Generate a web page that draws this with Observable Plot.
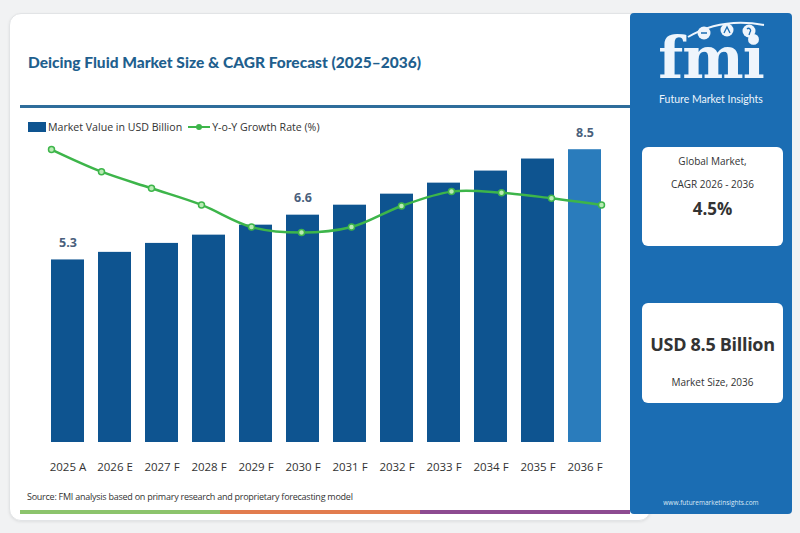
<!DOCTYPE html>
<html>
<head>
<meta charset="utf-8">
<script src="https://cdn.jsdelivr.net/npm/d3@7"></script>
<script src="https://cdn.jsdelivr.net/npm/@observablehq/plot@0.6"></script>
<style>
  html, body { margin: 0; padding: 0; }
  body { width: 800px; height: 533px; background: #f1f2f3; font-family: "Open Sans", sans-serif; overflow: hidden; }
  #page { position: relative; width: 800px; height: 533px; }
  .card { position: absolute; left: 9px; top: 13px; width: 640px; height: 506px; background: #fff;
          border: 1px solid #e2e4e6; border-radius: 12px; box-shadow: 0 1px 3px rgba(0,0,0,0.08); }
  .title { position: absolute; left: 28px; top: 53px; font-family: Lato, sans-serif; font-weight: 900;
           font-size: 15.5px; color: #1f5f8e; white-space: nowrap; }
  .rule { position: absolute; left: 20px; top: 105px; width: 612px; height: 3px; background: #2f6d9b; }
  .legend { position: absolute; left: 28px; top: 120px; font-size: 10.6px; color: #333; white-space: nowrap;
            display: flex; align-items: center; }
  .sw-bar { display: inline-block; width: 18px; height: 10px; background: #0e5490; margin-right: 2px; }
  .sw-line { display: inline-block; position: relative; width: 22px; height: 10px; margin: 0 2px 0 6px; }
  .sw-line::before { content: ""; position: absolute; left: 0; right: 0; top: 4px; height: 2px; background: #3db54a; }
  .sw-line::after { content: ""; position: absolute; left: 8px; top: 2px; width: 6px; height: 6px; border-radius: 50%; background: #3db54a; }
  .plot { position: absolute; left: 0; top: 0; }
  .source { position: absolute; left: 27px; top: 490px; font-size: 9px; color: #333; white-space: nowrap; letter-spacing: -0.25px; }
  .stripe { position: absolute; top: 510px; height: 4px; }
  .panel { position: absolute; left: 630px; top: 13px; width: 162px; height: 501px; background: #1b6db3; border-radius: 4px; }
  .logo { position: absolute; left: 0; width: 162px; text-align: center; color: #eef5fc; }
  .box { position: absolute; left: 12px; width: 141px; background: #fff; border-radius: 6px; text-align: center; color: #333; }
</style>
</head>
<body>
<div id="page">
  <div class="card"></div>
  <div class="title">Deicing Fluid Market Size &amp; CAGR Forecast (2025–2036)</div>
  <div class="rule"></div>
  <div class="legend">
    <span class="sw-bar"></span><span>Market Value in USD Billion</span>
    <span class="sw-line"></span><span>Y-o-Y Growth Rate (%)</span>
  </div>
  <div id="bars" class="plot"></div>
  <div id="line" class="plot"></div>
  <div class="source">Source: FMI analysis based on primary research and proprietary forecasting model</div>
  <div class="stripe" style="left:20px;width:200px;background:#8cc46c"></div>
  <div class="stripe" style="left:220px;width:200px;background:#e27c4e"></div>
  <div class="stripe" style="left:420px;width:210px;background:#8d4b91"></div>

  <div class="panel">
    <svg style="position:absolute;left:0;top:0" width="162" height="120">
      <path d="M58,24 Q92,4 134,12" fill="none" stroke="#eef5fc" stroke-width="2"/>
      <circle cx="74" cy="20" r="6.5" fill="#eef5fc"/>
      <circle cx="97" cy="17" r="6.5" fill="#eef5fc"/>
      <circle cx="119" cy="18" r="6.5" fill="#eef5fc"/>
      <path d="M71,20 h6 M94,20 l3,-6 l3,6 M117,16 a2,2 0 1,1 3,3 l-1,3" fill="none" stroke="#1b6db3" stroke-width="1.3"/>
      <text x="81" y="65" text-anchor="middle" fill="#eef5fc" font-family="'DejaVu Serif', serif"
            font-weight="bold" font-size="58" letter-spacing="-1">fmi</text>
      <text x="81" y="90" text-anchor="middle" fill="#eef5fc" font-family="Lato, sans-serif" font-size="10.5">Future Market Insights</text>
    </svg>
    <div class="box" style="top:134px;height:99px;">
      <div style="margin-top:7px;font-size:10px;line-height:14px;">Global Market,</div>
      <div style="margin-top:9px;font-size:10px;line-height:14px;">CAGR 2026 - 2036</div>
      <div style="margin-top:7px;font-size:17px;font-weight:bold;line-height:22px;">4.5%</div>
    </div>
    <div class="box" style="top:290px;height:100px;">
      <div style="margin-top:29px;font-size:18px;font-weight:bold;line-height:24px;letter-spacing:-0.3px;">USD 8.5 Billion</div>
      <div style="margin-top:19px;font-size:10px;line-height:14px;">Market Size, 2036</div>
    </div>
    <div class="logo" style="top:485px;font-size:6.5px;color:#dbe9f6;">www.futuremarketinsights.com</div>
  </div>
</div>

<script>
// Forecast years on the x axis
const years = ["2025 A", "2026 E", "2027 F", "2028 F", "2029 F", "2030 F",
               "2031 F", "2032 F", "2033 F", "2034 F", "2035 F", "2036 F"];
// Market value, USD billion
const marketValue = [5.3, 5.52, 5.78, 6.02, 6.31, 6.6, 6.89, 7.21, 7.53, 7.88, 8.23, 8.5];
// Year-on-year growth rate, %
const growthRate = [4.9, 4.7, 4.55, 4.4, 4.2, 4.15, 4.2, 4.39, 4.52, 4.51, 4.46, 4.4];
// Years whose value is printed above the bar
const labelledYears = ["2025 A", "2030 F", "2036 F"];

const rows = years.map((year, i) => ({year, value: marketValue[i], growth: growthRate[i]}));

const frame = {
  width: 630, height: 533,
  marginLeft: 34.3, marginRight: 12.1, marginTop: 132, marginBottom: 91,
  style: {background: "transparent", fontFamily: "'Open Sans', sans-serif", fontSize: "10px", color: "#333"}
};
const xScale = {domain: years, padding: 0.3};

const bars = Plot.plot({
  ...frame,
  x: xScale,
  y: {domain: [0, 9], axis: null},
  color: {type: "identity"},
  marks: [
    Plot.barY(rows, {x: "year", y: "value",
      fill: d => d.year === years[years.length - 1] ? "#2a7cbc" : "#0e5490"}),
    Plot.text(rows.filter(d => labelledYears.includes(d.year)), {
      x: "year", y: "value", text: d => d.value.toFixed(1), dy: -17,
      fontSize: 12.5, fontWeight: "bold", fill: "#4a5f7c"}),
    Plot.axisX({tickSize: 0, tickPadding: 20, label: null, fontSize: 11.5, fill: "#333"})
  ]
});
document.getElementById("bars").append(bars);

const line = Plot.plot({
  ...frame,
  x: {...xScale, axis: null},
  y: {domain: [2.254, 5.054], axis: null},
  marks: [
    Plot.line(rows, {x: "year", y: "growth", stroke: "#3db54a", strokeWidth: 2.5, curve: "catmull-rom"}),
    Plot.dot(rows, {x: "year", y: "growth", r: 3, fill: "#b9ebb4", stroke: "#3db54a", strokeWidth: 1.5})
  ]
});
document.getElementById("line").append(line);
</script>
</body>
</html>
